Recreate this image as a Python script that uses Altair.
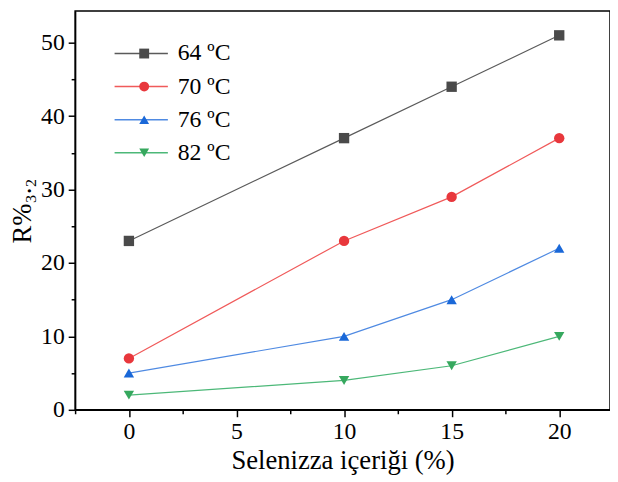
import altair as alt
import pandas as pd

x_vals = [0, 10, 15, 20]
series_names = ["64 ºC", "70 ºC", "76 ºC", "82 ºC"]
s64 = [23, 37, 44, 51]
s70 = [7, 23, 29, 37]
s76 = [5, 10, 15, 22]
s82 = [2, 4, 6, 10]

point_colors = ["#4a4a4a", "#e8373c", "#1a68d8", "#36a85e"]
line_colors = ["#5a5a5a", "#f05a5a", "#4f8ae2", "#4cb878"]
shapes = ["square", "circle", "triangle-up", "triangle-down"]

# point layer uses a separate key so its legend is not merged with the line legend
point_keys = [n + " " for n in series_names]

rows = []
for name, key, vals in zip(series_names, point_keys, [s64, s70, s76, s82]):
    for xv, yv in zip(x_vals, vals):
        rows.append({"x": xv, "y": yv, "series": name, "series2": key})
df = pd.DataFrame(rows)

FONT = "Liberation Serif"
x_ticks = [-2.5, 0, 2.5, 5, 7.5, 10, 12.5, 15, 17.5, 20]
y_ticks = [0, 5, 10, 15, 20, 25, 30, 35, 40, 45, 50]

x_enc = alt.X(
    "x:Q",
    scale=alt.Scale(domain=[-2.5, 22.36], nice=False, zero=False),
    axis=alt.Axis(
        title="Selenizza içeriği (%)",
        values=x_ticks,
        labelExpr="datum.value % 5 == 0 ? datum.label : ''",
        tickSize={"condition": {"test": "datum.value % 5 == 0", "value": 7}, "value": 4},
        grid=False,
        labelFont=FONT, labelFontSize=24, labelColor="black", labelPadding=3,
        titleFont=FONT, titleFontSize=27, titleFontWeight="normal", titleColor="black",
        titlePadding=4,
        domainColor="black", domainWidth=1.5, tickColor="black", tickWidth=1.5,
    ),
)
y_enc = alt.Y(
    "y:Q",
    scale=alt.Scale(domain=[0, 54.3], nice=False),
    axis=alt.Axis(
        title="R%₃.₂",
        values=y_ticks,
        labelExpr="datum.value % 10 == 0 ? datum.label : ''",
        tickSize={"condition": {"test": "datum.value % 10 == 0", "value": 7}, "value": 4},
        grid=False,
        labelFont=FONT, labelFontSize=24, labelColor="black", labelPadding=4,
        titleFont=FONT, titleFontSize=27, titleFontWeight="normal", titleColor="black",
        titlePadding=4,
        domainColor="black", domainWidth=1.5, tickColor="black", tickWidth=1.5,
    ),
)

lines = alt.Chart(df).mark_line(strokeWidth=1.2).encode(
    x=x_enc,
    y=y_enc,
    stroke=alt.Stroke(
        "series:N",
        scale=alt.Scale(domain=series_names, range=line_colors),
        legend=alt.Legend(
            title=None, orient="none", legendX=55, legendY=31, padding=0,
            symbolType="M-3,0H3", symbolSize=324, symbolStrokeWidth=1.5,
            labelFont=FONT, labelFontSize=24, labelOpacity=0, labelOffset=24,
            rowPadding=9.5,
        ),
    ),
)

pt_legend = alt.Legend(
    title=None, orient="none", legendX=58, legendY=31, padding=0,
    symbolSize=100, symbolStrokeWidth=0, symbolOpacity=1,
    labelFont=FONT, labelFontSize=24, labelColor="black", labelOffset=22,
    rowPadding=9.5,
)
points = alt.Chart(df).mark_point(filled=True, size=110, opacity=1).encode(
    x=x_enc,
    y=y_enc,
    shape=alt.Shape("series2:N", scale=alt.Scale(domain=point_keys, range=shapes), legend=pt_legend),
    fill=alt.Fill("series2:N", scale=alt.Scale(domain=point_keys, range=point_colors), legend=pt_legend),
)

chart = alt.layer(lines, points).properties(
    width=542, height=404,
    autosize=alt.AutoSizeParams(type="none"),
    padding={"left": 68, "top": 0, "right": 0, "bottom": 70},
).configure_view(stroke="black", strokeWidth=1.5)

chart.save("out.html", embed_options={"renderer": "svg", "actions": False})
